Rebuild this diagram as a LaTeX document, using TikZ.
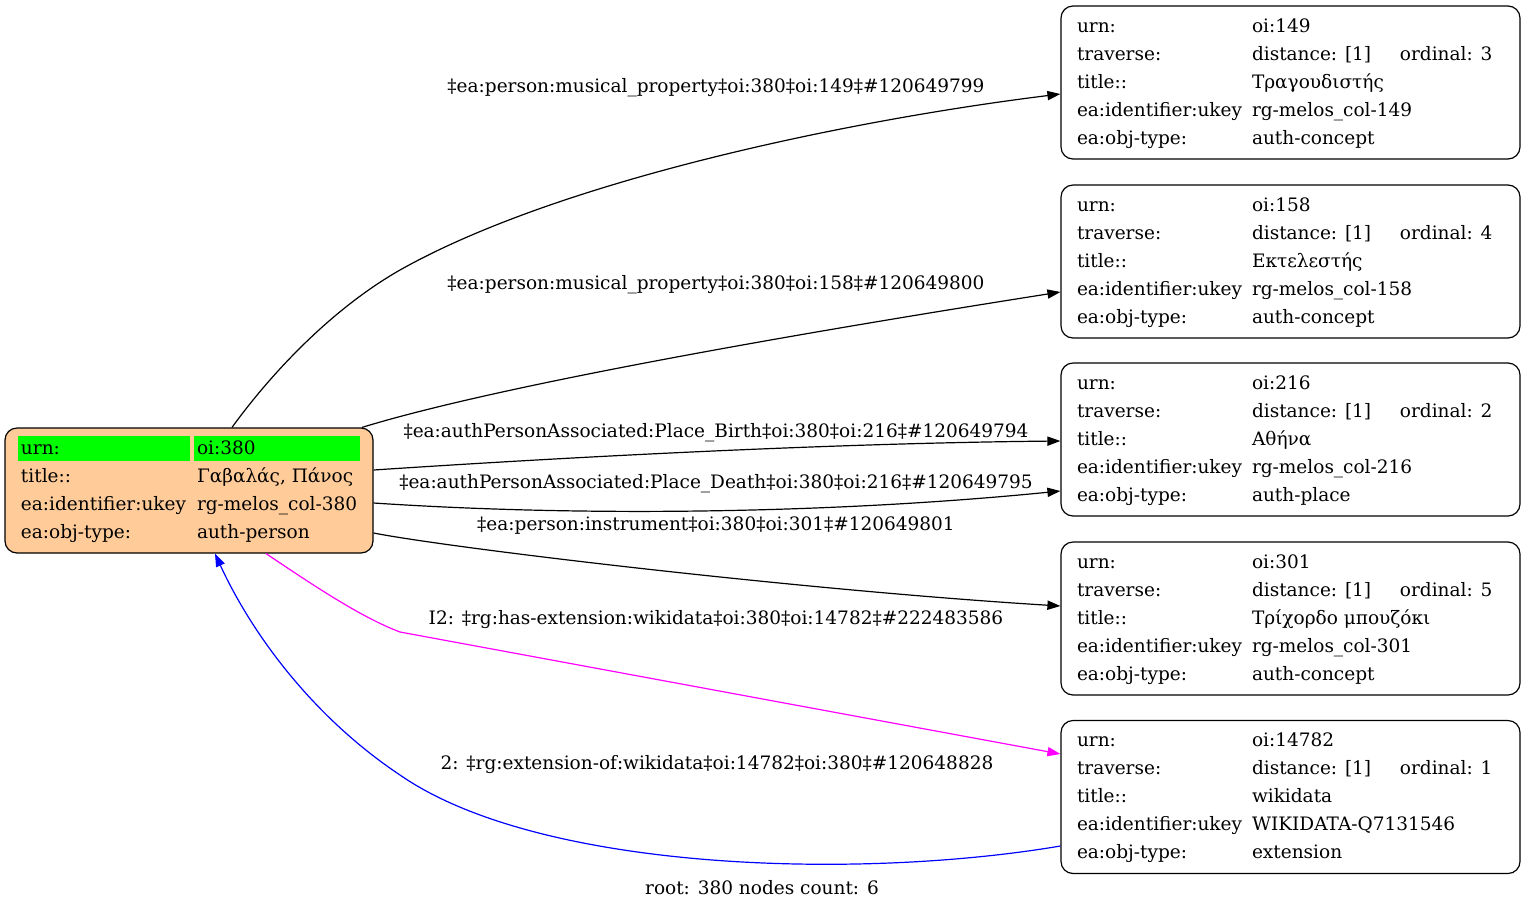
\documentclass[tikz,border=0pt]{standalone}
\usepackage{fontspec}
\setmainfont{DejaVu Serif}
\usepackage{xcolor}
\usetikzlibrary{arrows.meta,calc}
\definecolor{peach}{RGB}{255,204,153}
\definecolor{hlgreen}{RGB}{0,255,0}
\definecolor{extmagenta}{RGB}{255,0,255}
\definecolor{extblue}{RGB}{0,0,255}
\newcommand{\gvfont}{\fontsize{9.25}{11}\selectfont}
\renewcommand{\arraystretch}{1.2727}
\tikzstyle{objbox}=[draw, rounded corners=6pt, line width=0.6pt
,inner xsep=8pt, inner ysep=3.25pt
,font=\gvfont
]
\tikzstyle{rootbox}=[objbox, fill=peach, inner xsep=6.5pt]
\tikzstyle{elabel}=[inner sep=0pt, font=\gvfont]
\tikzstyle{edge} = [draw, line width=0.6pt, -{Triangle[length=6.5pt,width=4.6pt]}]
% cells of the root table
\newcommand{\hlcell}[2]{{\setlength{\fboxsep}{0pt}\colorbox{hlgreen}{\makebox[#1][l]{\rule[-3.5pt]{0pt}{12.5pt}\hspace{1.5pt}#2}}}}
\newcommand{\rowcell}[2]{\makebox[#1][l]{\hspace{1.5pt}#2}}
% table of a linked object: id, ordinal, title, ukey, type
\newcommand{\objtable}[5]{\begin{tabular}{@{}p{87.5pt}@{}p{126pt}@{}}
urn: & oi:#1\\
traverse: & \makebox[74pt][l]{distance: [1]}ordinal: #2\\
title:: & #3\\
ea:identifier:ukey & #4\\
ea:obj-type: & #5\\
\end{tabular}}

\begin{document}
\begin{tikzpicture}[x=0.5pt,y=-0.5pt]
    \useasboundingbox (0,0) rectangle (1525,911);
    % First the root object
    \node[rootbox] (n380) at (189,490.5) {\begin{tabular}{@{}l@{\hspace{2pt}}l@{}}
        \hlcell{86pt}{urn:} & \hlcell{83pt}{oi:380}\\
        \rowcell{86pt}{title::} & \rowcell{83pt}{Γαβαλάς, Πάνος}\\
        \rowcell{86pt}{ea:identifier:ukey} & \rowcell{83pt}{rg-melos\_col-380}\\
        \rowcell{86pt}{ea:obj-type:} & \rowcell{83pt}{auth-person}\\
    \end{tabular}};

    % Then the linked objects
    \foreach \y/\id/\ord/\ttl/\ukey/\typ in {82.5/149/3/Τραγουδιστής/rg-melos\_col-149/auth-concept,
        261.5/158/4/Εκτελεστής/rg-melos\_col-158/auth-concept,
        439.5/216/2/Αθήνα/rg-melos\_col-216/auth-place,
        618.5/301/5/Τρίχορδο μπουζόκι/rg-melos\_col-301/auth-concept,
        797/14782/1/wikidata/WIKIDATA-Q7131546/extension}
        \node[objbox] (n\id) at (1290.5,\y) {\objtable{\id}{\ord}{\ttl}{\ukey}{\typ}};

    % Connect objects with edges
    \path[edge] ($(n380.north)+(43,0)$) .. controls (270,375) and (330,310) .. (400,270)
        .. controls (560,180) and (850,120) .. ($(n149.west)+(0,11.5)$);
    \path[edge] ($(n380.north)+(173,0)$) .. controls (500,385) and (800,333) .. ($(n158.west)+(0,30.5)$);
    \path[edge] ($(n380.east)+(0,-20.5)$) .. controls (600,455) and (850,443) .. ($(n216.west)+(0,1.5)$);
    \path[edge] ($(n380.east)+(0,12.5)$) .. controls (600,518) and (850,512) .. ($(n216.west)+(0,51.5)$);
    \path[edge] ($(n380.east)+(0,42.5)$) .. controls (450,548) and (800,590) .. ($(n301.west)+(0,-12.5)$);
    \path[edge, extmagenta] ($(n380.south)+(77,0)$) .. controls (310,583) and (360,617) .. (400,632)
        -- ($(n14782.west)+(0,-43)$);
    \path[edge, extblue] ($(n14782.west)+(0,49)$) .. controls (860,880) and (540,872) .. (400,775)
        .. controls (310,715) and (250,630) .. ($(n380.south)+(26,0)$);

    % Edge labels
    \node[elabel] (l149) at (716,88) {‡ea:person:musical\_property‡oi:380‡oi:149‡\#120649799};
    \node[elabel] (l158) at (716,285) {‡ea:person:musical\_property‡oi:380‡oi:158‡\#120649800};
    \node[elabel] (lbirth) at (716,433) {‡ea:authPersonAssociated:Place\_Birth‡oi:380‡oi:216‡\#120649794};
    \node[elabel] (ldeath) at (716,484) {‡ea:authPersonAssociated:Place\_Death‡oi:380‡oi:216‡\#120649795};
    \node[elabel] (l301) at (716,526) {‡ea:person:instrument‡oi:380‡oi:301‡\#120649801};
    \node[elabel] (lext) at (716,620) {I2: ‡rg:has-extension:wikidata‡oi:380‡oi:14782‡\#222483586};
    \node[elabel] (lof) at (717,765) {2: ‡rg:extension-of:wikidata‡oi:14782‡oi:380‡\#120648828};
    \node[elabel] (footer) at (762,888) {root: 380 nodes count: 6};
\end{tikzpicture}
\end{document}
